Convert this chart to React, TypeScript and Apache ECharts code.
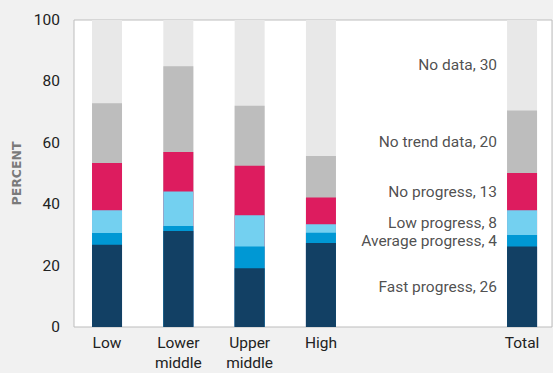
import React, { useEffect, useRef } from "react";
import * as echarts from "echarts";

const categories = ["Low", "Lower\nmiddle", "Upper\nmiddle", "High", "Total"];
const positions = [1, 2, 3, 4, 6.82];
const seriesNames = ["Fast progress", "Average progress", "Low progress", "No progress", "No trend data", "No data"];
const labelValues = [26, 4, 8, 13, 20, 30];
const fastProgress = [26.8, 31.3, 19.1, 27.4, 26.2];
const averageProgress = [3.8, 1.6, 7.1, 3.3, 3.8];
const lowProgress = [7.4, 11.2, 10.2, 2.8, 8.0];
const noProgress = [15.4, 12.9, 16.1, 8.7, 12.2];
const noTrendData = [19.5, 27.9, 19.6, 13.5, 20.3];
const noData = [27.1, 15.1, 27.9, 44.3, 29.5];
const yTicks = [0, 20, 40, 60, 80, 100];

const colors = ["#124064", "#0098d4", "#73d0f0", "#dd1c5f", "#bdbdbd", "#e8e8e8"];
const FONT = "Roboto, 'DejaVu Sans Condensed', sans-serif";
const FS = 15.5;

export default function App() {
  const ref = useRef<HTMLDivElement>(null);
  useEffect(() => {
    if (!ref.current) return;
    const chart = echarts.init(ref.current, undefined, { renderer: "svg" });
    const allData = [fastProgress, averageProgress, lowProgress, noProgress, noTrendData, noData];
    // manual stacking: cumulative tops per segment
    const tops: number[][] = [];
    const bases: number[][] = [];
    allData.forEach((vals, si) => {
      bases.push(vals.map((_, i) => (si === 0 ? 0 : tops[si - 1][i])));
      tops.push(vals.map((v, i) => bases[si][i] + v));
    });
    const barSeries = allData
      .map((_, si) => ({
        name: seriesNames[si],
        type: "bar",
        barWidth: 30,
        barGap: "-100%",
        silent: true,
        itemStyle: { color: colors[si] },
        data: tops[si].map((t, i) => [positions[i], t]),
      }))
      .reverse();
    const last = positions.length - 1;
    const labelOffsets = [4, 3, -4, 0, 3, 2];
    const labelSeries = {
      type: "scatter",
      silent: true,
      symbol: "rect",
      symbolSize: [30, 1],
      itemStyle: { color: "rgba(0,0,0,0)" },
      labelLayout: { hideOverlap: false },
      z: 10,
      data: allData.map((vals, si) => ({
        value: [positions[last], bases[si][last] + vals[last] / 2],
        label: {
          show: true,
          position: "left",
          distance: 10,
          offset: [0, labelOffsets[si]],
          formatter: `${seriesNames[si]}, ${labelValues[si]}`,
          color: "#222",
          fontFamily: FONT,
          fontSize: FS,
        },
      })),
    };
    chart.setOption({
      animation: false,
      backgroundColor: "#f1f1f1",
      grid: {
        left: 74,
        right: 1,
        top: 20,
        bottom: 41.5,
        show: true,
        backgroundColor: "#ffffff",
        borderColor: "#bdbdbd",
        borderWidth: 1,
      },
      xAxis: {
        type: "value",
        min: 0.537,
        max: 7.24,
        splitLine: { show: false },
        axisLine: { show: false },
        axisTick: { show: false },
        axisLabel: {
          customValues: positions,
          formatter: (v: number) => {
            const idx = positions.findIndex((p) => Math.abs(p - v) < 1e-6);
            return idx >= 0 ? categories[idx] : "";
          },
          color: "#222",
          fontFamily: FONT,
          fontSize: FS,
          lineHeight: 20,
          margin: 6,
        },
      },
      yAxis: {
        type: "value",
        min: 0,
        max: 100,
        interval: 20,
        name: "PERCENT",
        nameLocation: "middle",
        nameGap: 37,
        nameTextStyle: {
          color: "#7a7a7a",
          fontFamily: "'DejaVu Sans', sans-serif",
          fontWeight: "bold",
          fontSize: 12.5,
        },
        splitLine: { show: false },
        axisLine: { show: false },
        axisTick: { show: false },
        axisLabel: {
          customValues: yTicks,
          color: "#222",
          fontFamily: FONT,
          fontSize: FS,
          margin: 14,
        },
      },
      series: [...barSeries, labelSeries],
    });
    return () => chart.dispose();
  }, []);
  return (
    <div
      ref={ref}
      style={{ position: "fixed", left: 0, top: 0, width: 553, height: 373 }}
    />
  );
}
